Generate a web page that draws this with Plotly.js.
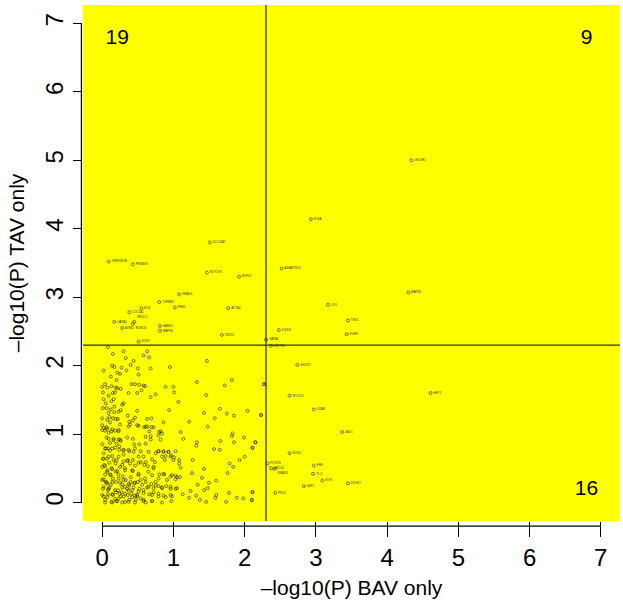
<!DOCTYPE html>
<html>
<head>
<meta charset="utf-8">
<script src="https://cdn.plot.ly/plotly-3.0.1.min.js"></script>
<style>html,body{margin:0;padding:0;background:#fff;}#chart{width:623px;height:602px;}</style>
</head>
<body>
<div id="chart"></div>
<script>
// Unlabelled points (both P above threshold)
const bgX = [0.08,0.15,0.30,0.63,0.58,0.66,0.33,0.44,1.47,0.40,0.14,0.17,0.27,0.02,0.21,0.25,0.34,0.50,0.68,0.95,
0.51,0.12,0.20,1.33,1.72,1.82,2.27,0.04,0.00,0.07,0.13,0.21,0.26,0.19,0.01,0.15,0.18,0.37,0.41,0.46,
0.52,0.58,0.60,0.49,0.55,0.75,0.89,1.00,1.01,1.46,0.68,1.07,0.09,0.02,0.16,0.13,0.30,0.28,0.17,0.06,
0.12,0.23,0.26,0.17,0.01,0.09,0.94,1.43,1.65,2.04,1.75,1.85,2.23,0.36,0.49,0.46,0.38,0.39,0.51,0.43,
0.63,0.69,0.86,1.22,1.48,1.58,0.22,0.19,0.15,0.07,0.00,0.11,0.25,0.02,0.00,0.06,0.04,0.09,0.14,0.23,
0.63,0.59,0.69,0.66,0.68,0.80,0.84,0.82,1.10,1.14,1.33,1.32,1.66,1.82,1.83,1.99,2.15,1.85,2.11,1.57,
1.65,2.00,1.93,0.16,0.23,0.26,0.11,0.20,0.04,0.08,0.14,0.24,0.30,0.38,0.44,0.52,0.61,0.79,0.86,0.93,
0.97,1.01,0.89,0.75,0.70,0.58,0.51,0.43,0.36,0.30,0.54,0.59,0.64,0.72,0.88,1.08,1.27,1.10,1.26,1.43,
1.79,1.84,1.76,0.01,0.07,0.14,0.10,0.04,0.19,0.25,0.14,0.07,0.04,0.11,0.19,0.23,0.32,0.43,0.51,0.40,
0.29,0.70,0.80,0.87,0.96,1.03,1.09,1.40,1.60,1.50,1.34,1.48,1.24,1.13,1.22,1.32,1.37,1.43,1.46,1.60,
1.59,1.74,1.78,1.89,1.98,2.11,2.10,0.02,0.06,0.12,0.19,0.25,0.32,0.38,0.45,0.52,0.56,0.63,0.69,0.72,
0.79,0.84,0.90,0.96,1.05,0.01,0.08,0.15,0.19,0.24,0.30,0.36,0.41,0.49,0.54,0.58,0.72,0.79,0.86,0.96,
0.97,0.02,0.04,0.13,0.20,0.26,0.32,0.38,0.47,0.58,0.70,0.05,0.10,0.15,0.22,0.28,0.33,0.08,0.18,0.27,
0.35,0.42,0.46,0.12,0.03,0.20,0.30,0.06,0.10,0.05,0.18,0.28,0.40,0.50,0.60,0.66,0.75,0.02,0.24,0.35,
0.45,2.27,2.23,2.15,2.11,2.11,2.10];
const bgY = [2.27,2.17,2.21,2.21,2.15,2.12,2.11,2.07,2.07,2.01,2.00,1.98,1.97,1.93,1.90,1.88,1.93,1.96,1.96,1.98,
1.87,1.84,1.79,1.76,1.71,1.79,1.73,1.73,1.69,1.68,1.70,1.67,1.66,1.68,1.61,1.60,1.61,1.60,1.73,1.73,
1.72,1.71,1.70,1.60,1.64,1.58,1.69,1.69,1.61,1.57,1.54,1.47,1.56,1.51,1.51,1.48,1.45,1.43,1.40,1.38,
1.36,1.33,1.35,1.32,1.38,1.31,1.35,1.31,1.37,1.34,1.30,1.27,1.28,1.27,1.34,1.24,1.18,1.14,1.12,1.20,
1.22,1.23,1.17,1.18,1.11,1.23,1.22,1.22,1.23,1.21,1.23,1.17,1.14,1.09,1.06,1.10,1.05,1.02,1.07,1.04,
1.11,1.10,1.10,1.04,0.97,1.03,1.01,0.92,1.03,0.93,0.88,0.83,0.90,0.97,1.01,0.95,0.88,0.88,0.80,0.78,
0.77,0.67,0.62,0.93,0.92,0.90,0.87,0.86,0.79,0.79,0.79,0.82,0.77,0.75,0.74,0.85,0.86,0.75,0.74,0.74,
0.69,0.66,0.68,0.72,0.63,0.67,0.67,0.62,0.62,0.60,0.59,0.55,0.53,0.52,0.62,0.62,0.62,0.51,0.43,0.49,
0.57,0.52,0.43,0.64,0.64,0.68,0.58,0.53,0.57,0.52,0.49,0.45,0.41,0.41,0.45,0.41,0.47,0.46,0.40,0.37,
0.38,0.40,0.41,0.41,0.38,0.39,0.37,0.36,0.32,0.29,0.26,0.21,0.17,0.12,0.07,0.10,0.04,0.18,0.01,0.11,
0.07,0.01,0.14,0.07,0.06,0.15,0.03,0.34,0.29,0.26,0.30,0.29,0.23,0.25,0.28,0.20,0.26,0.22,0.27,0.21,
0.24,0.21,0.24,0.20,0.21,0.20,0.18,0.11,0.15,0.13,0.09,0.11,0.13,0.09,0.06,0.14,0.15,0.09,0.10,0.11,
0.02,0.09,0.04,0.01,0.02,0.09,0.01,0.04,0.04,0.02,0.02,0.30,0.22,0.35,0.18,0.27,0.33,0.12,0.05,0.15,
0.20,0.18,0.10,0.40,0.55,0.62,0.70,0.95,1.25,1.45,1.05,0.55,0.30,0.30,0.35,0.12,0.30,0.72,0.77,0.95,
0.85,1.73,1.28,0.88,0.80,0.15,0.04];
// Additional unlabelled points in the dense lower-left corner
const denseX = [0.00,0.07,0.13,0.23,0.37,0.49,0.61,0.72,0.82,0.09,0.16,0.25,0.43,0.61,0.68,0.79,0.00,0.05,0.11,0.18,
0.30,0.37,0.46,0.54,0.65,0.79,0.86,0.93,1.03,0.02,0.09,0.16,0.23,0.35,0.39,0.46,0.51,0.61,0.74,0.84,
0.96,1.00,1.08,0.00,0.07,0.13,0.21,0.32,0.42,0.51,0.65,0.72,0.86,0.98,1.05,0.00,0.07,0.14,0.23,0.30,
0.37,0.46,0.54,0.61,0.79,0.91,1.03,0.02,0.09,0.18,0.28,0.37,0.44,0.51,0.58,0.65,0.75,0.84,0.96,1.03,
0.00,0.07,0.14,0.23,0.32,0.42,0.49,0.58,0.70,0.79,0.89,0.98,0.04,0.14,0.21,0.28,0.37,0.46,0.61,0.70,0.84];
const denseY = [1.13,1.08,1.04,1.06,1.11,1.13,1.11,1.10,1.04,0.93,0.91,0.92,0.93,0.96,0.92,0.98,0.85,0.79,0.76,0.80,
0.76,0.77,0.79,0.75,0.74,0.75,0.75,0.74,0.75,0.64,0.67,0.62,0.67,0.61,0.57,0.54,0.58,0.59,0.59,0.67,
0.67,0.62,0.57,0.52,0.47,0.50,0.46,0.50,0.47,0.42,0.45,0.50,0.42,0.40,0.37,0.33,0.28,0.30,0.35,0.33,
0.27,0.29,0.33,0.30,0.35,0.33,0.34,0.23,0.20,0.18,0.22,0.18,0.22,0.16,0.18,0.23,0.25,0.22,0.23,0.20,
0.11,0.08,0.12,0.06,0.13,0.08,0.11,0.04,0.11,0.13,0.08,0.09,0.00,0.00,0.02,0.00,0.01,0.00,0.00,0.02,0.00];

// Labelled points (at least one P below threshold)
const sigX = [1.51,0.09,0.43,1.47,1.92,1.08,0.80,0.55,1.02,1.77,0.38,0.17,0.45,0.43,0.28,0.81,0.81,1.68,0.51,
4.34,2.93,2.52,4.30,3.17,3.45,3.43,2.48,2.30,
2.37,2.74,4.61,2.63,2.97,3.37,2.63,2.32,2.37,2.42,2.97,2.96,3.09,3.45,2.83,2.43];
const sigY = [3.80,3.52,3.48,3.36,3.30,3.04,2.93,2.84,2.85,2.84,2.78,2.64,2.64,2.61,2.55,2.58,2.51,2.45,2.35,
5.00,4.14,3.42,3.07,2.89,2.66,2.46,2.52,2.38,
2.29,2.01,1.60,1.56,1.36,1.03,0.72,0.57,0.50,0.49,0.54,0.42,0.32,0.28,0.24,0.14];
const sigLabels = ["SLC12A7","TNFRSF1B","PRDM16","NOTCH1","MYH11","SMAD6","TGFBR2","ELN","FBN1","ACTA2",
"COL1A1","GATA5","NKX2-5","ROBO4","AXIN2","HAND2","MAP3K","TBX20","SOX9",
"CELSR1","FLNA","ADAMTS19","MATN2","LOX","TBX5","EGFR","KCNJ2","GATA4",
"WNT9B","SHOX2","HEY2","MYOCD","VCAN","JAG1","NOS3","POSTN","ABCC6","SMAD3","ERG","TLL1","KLF4","DCHS1","LRP1","PKD1"];

const quadCounts = ["19","9","16"];
const quadX = [0.21,6.8,6.8];
const quadY = [6.78,6.78,0.19];

const thrBAV = 2.3, thrTAV = 2.3;

const labelPos = sigLabels.map(() => 'middle right');
labelPos[12] = 'top right';
labelPos[13] = 'bottom right';
labelPos[37] = 'bottom right';

const mk = {symbol:'circle-open', size:3, color:'#1a1a1a', line:{width:0.6, color:'#1a1a1a'}};
const traces = [
  {x: bgX.concat(denseX), y: bgY.concat(denseY), type:'scatter', mode:'markers', hoverinfo:'skip', marker: mk},
  {x: sigX, y: sigY, type:'scatter', mode:'markers+text', text: sigLabels, textposition: labelPos,
   textfont:{family:'Liberation Sans, Arial, sans-serif', size:3, color:'#333'}, hoverinfo:'skip', marker: mk},
  {x: quadX, y: quadY, type:'scatter', mode:'text', text: quadCounts, textposition:'middle center',
   textfont:{family:'Liberation Sans, Arial, sans-serif', size:21, color:'#000'}, hoverinfo:'skip'}
];

const layout = {
  width: 623, height: 602,
  margin: {l: 83, r: 3, t: 5, b: 81},
  paper_bgcolor: '#ffffff',
  plot_bgcolor: '#ffff00',
  showlegend: false,
  font: {family: 'Liberation Sans, Arial, sans-serif', color: '#000'},
  xaxis: {range: [-0.27, 7.27], tickvals: [0,1,2,3,4,5,6,7], ticktext: ['0','1','2','3','4','5','6','7'],
    ticks: 'outside', ticklen: 15, tickwidth: 1, tickcolor: '#000', showgrid: false, zeroline: false, showline: false,
    tickfont: {size: 24}, title: {text: '\u2013log10(P) BAV only', font: {size: 21}, standoff: 10}},
  yaxis: {range: [-0.27, 7.27], tickvals: [0,1,2,3,4,5,6,7], ticktext: ['0','1','2','3','4','5','6','7'],
    ticks: 'outside', ticklen: 9, tickwidth: 1, tickcolor: '#000', showgrid: false, zeroline: false, showline: false,
    tickangle: -90, tickfont: {size: 24}, title: {text: '\u2013log10(P) TAV only', font: {size: 21}, standoff: 11}},
  shapes: [
    {type:'line', xref:'x', yref:'paper', x0: thrBAV, x1: thrBAV, y0: 0, y1: 1, line:{color:'#000', width:1}},
    {type:'line', xref:'paper', yref:'y', x0: 0, x1: 1, y0: thrTAV, y1: thrTAV, line:{color:'#333', width:1.3}},
    {type:'line', xref:'x', yref:'paper', x0: 0, x1: 7, y0: -0.01, y1: -0.01, line:{color:'#000', width:1.2}},
    {type:'line', xref:'paper', yref:'y', x0: -0.003, x1: -0.003, y0: 0, y1: 7, line:{color:'#000', width:1.2}}
  ]
};

Plotly.newPlot('chart', traces, layout, {displayModeBar: false, staticPlot: true});
</script>
</body>
</html>
